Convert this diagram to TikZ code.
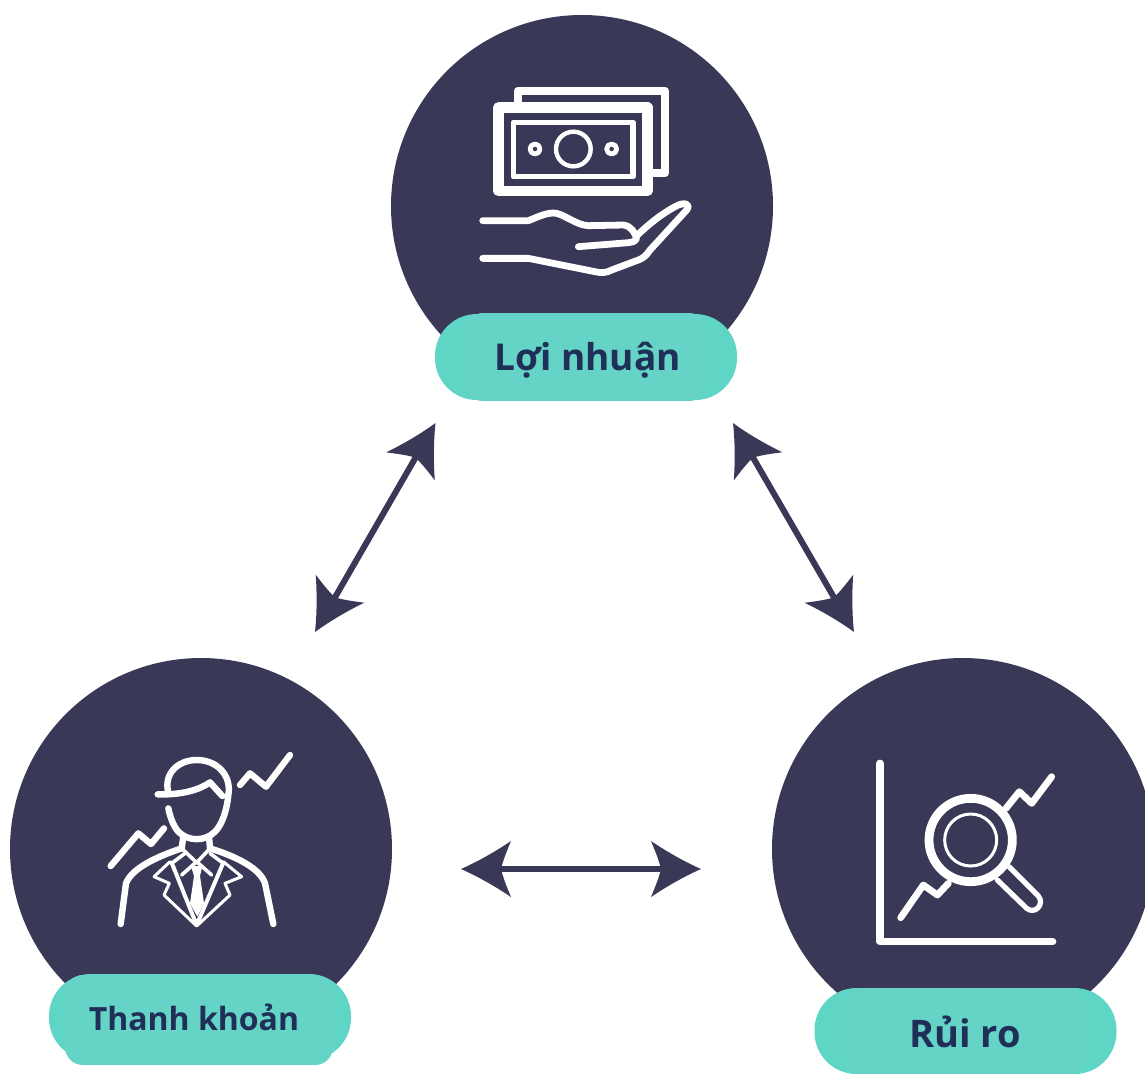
\documentclass[tikz,border=0pt]{standalone}
\usepackage{fontspec}
\setmainfont{Open Sans}
\definecolor{navy}{HTML}{393856}
\definecolor{tealA}{HTML}{65D4C6}
\definecolor{tealB}{HTML}{5FD5C5}
\definecolor{labeltext}{HTML}{1F2F57}
\makeatletter
\pgfdeclarearrow{
  name=Barb,
  setup code={\pgfarrowssettipend{25pt}\pgfarrowssetlineend{8pt}\pgfarrowssetbackend{0pt}\pgfarrowssetvisualbackend{5pt}},
  drawing code={
    \pgfpathmoveto{\pgfqpoint{25pt}{0pt}}
    \pgfpathcurveto{\pgfqpoint{17pt}{3.5pt}}{\pgfqpoint{8pt}{8.6pt}}{\pgfqpoint{0pt}{14pt}}
    \pgfpathcurveto{\pgfqpoint{2pt}{9.2pt}}{\pgfqpoint{4pt}{4.4pt}}{\pgfqpoint{5pt}{0pt}}
    \pgfpathcurveto{\pgfqpoint{4pt}{-4.4pt}}{\pgfqpoint{2pt}{-9.2pt}}{\pgfqpoint{0pt}{-14pt}}
    \pgfpathcurveto{\pgfqpoint{8pt}{-8.6pt}}{\pgfqpoint{17pt}{-3.5pt}}{\pgfqpoint{25pt}{0pt}}
    \pgfpathclose
    \pgfusepathqfill
  },
  defaults={}
}
\makeatother
\tikzset{
  disc/.style={circle,fill=navy,draw=none,minimum size=191pt,inner sep=0pt},
  pillbody/.style={rounded corners=21pt,draw=none,fill=tealB,minimum width=151pt,minimum height=43pt,inner sep=0pt},
  pillcore/.style={rounded corners=9pt,draw=none,fill=tealA,inner sep=0pt},
  labeltxt/.style={text=labeltext,font=\bfseries,inner sep=0pt},
  link/.style={draw=navy,line width=3pt,{Barb}-{Barb}},
  icon/.style={draw=white,line cap=round,line join=round},
  zoomA/.style={x=0.16667pt,y=-0.16667pt}
}
\begin{document}
\begin{tikzpicture}[x=0.5pt,y=-0.5pt]
\useasboundingbox (0,0) rectangle (1145,1073);
\clip (0,0) rectangle (1145,1073);

% discs
\node[disc] (top) at (582,206) {};
\node[disc] (left) at (201,849) {};
\node[disc] (right) at (963,849) {};

% pills
\node[pillbody] (pillT) at (586,357) {};
\node[pillcore,minimum width=121pt,minimum height=44pt] (coreT) at (586,357) {};
\node[labeltxt,font=\bfseries\fontsize{18.5}{20}\selectfont] (labT) at (587.5,360) {Lợi nhuận};

\node[pillbody] (pillL) at (200,1017) {};
\node[pillcore,minimum width=134pt,minimum height=45pt] (coreL) at (199,1020) {};
\node[labeltxt,font=\bfseries\fontsize{16}{18}\selectfont] (labL) at (194,1017) {Thanh khoản};

\node[pillbody] (pillR) at (965.5,1031) {};
\node[pillcore,minimum width=121pt,minimum height=43pt] (coreR) at (965.5,1031) {};
\node[labeltxt,font=\bfseries\fontsize{19}{20}\selectfont] (labR) at (965,1032) {Rủi ro};

% connectors
\coordinate (a1) at (435.5,423);
\coordinate (a2) at (315,632);
\coordinate (b1) at (733,423);
\coordinate (b2) at (854,632);
\coordinate (c1) at (461,869);
\coordinate (c2) at (701,869);
\draw[link] (a1) -- (a2);
\draw[link] (b1) -- (b2);
\draw[link] (c1) -- (c2);

% money icon
\begin{scope}[shift={(460,70)},zoomA]
  \draw[icon,line width=3.9pt,line cap=butt] (173,100) -- (173,62) -- (615,62) -- (615,310) -- (575,310);
  \draw[icon,line width=5.2pt] (115,113) rectangle (562,363);
  \draw[icon,line width=2.8pt] (160,157) rectangle (519,320);
  \draw[icon,line width=2.2pt] (340,237) circle (52);
  \draw[icon,line width=2.4pt] (225,237) circle (15);
  \draw[icon,line width=2.4pt] (455,237) circle (15);
  \draw[icon,line width=3.4pt] (68,452) -- (205,452)
     .. controls (235,440) and (265,425) .. (290,430)
     .. controls (320,438) and (350,465) .. (385,467)
     -- (490,465) .. controls (515,468) and (525,490) .. (530,505)
     .. controls (525,515) and (515,518) .. (505,518) -- (355,530);
  \draw[icon,line width=3.4pt] (68,565) -- (205,565) -- (405,605)
     .. controls (425,610) and (440,608) .. (455,600)
     -- (535,570) .. controls (550,565) and (560,555) .. (570,540)
     -- (680,420) .. controls (695,400) and (670,395) .. (645,410)
     .. controls (600,435) and (570,460) .. (530,497);
\end{scope}

% person icon
\begin{scope}[shift={(90,740)},zoomA]
  \draw[icon,line width=3.2pt] (203,163) .. controls (260,165) and (320,155) .. (360,127) -- (397,168);
  \draw[icon,line width=3.2pt] (235,158) .. controls (220,100) and (265,60) .. (320,60)
     .. controls (385,60) and (425,110) .. (415,165)
     .. controls (410,215) and (395,255) .. (375,275)
     .. controls (345,305) and (295,305) .. (265,275)
     .. controls (250,258) and (240,230) .. (235,205);
  \draw[icon,line width=3.2pt] (280,290) -- (275,325)
     .. controls (200,350) and (125,385) .. (108,430) -- (92,552);
  \draw[icon,line width=3.2pt] (357,290) -- (360,325)
     .. controls (440,350) and (510,385) .. (525,430) -- (550,552);
  \draw[icon,line width=3.2pt] (62,378) -- (145,280) -- (183,312) -- (222,265);
  \draw[icon,line width=3.2pt] (450,135) -- (480,100) -- (528,140) -- (600,45);
  \draw[icon,line width=2pt] (245,368) -- (320,555) -- (400,368);
  \draw[icon,line width=1.5pt] (240,365) -- (192,410) -- (238,430) -- (222,465) -- (320,558) -- (420,465) -- (405,430) -- (455,410) -- (400,365);
  \draw[icon,line width=1.8pt] (275,325) -- (320,368) -- (360,325);
  \draw[icon,line width=1.8pt] (245,370) -- (285,340);
  \draw[icon,line width=1.8pt] (400,370) -- (360,340);
  \draw[icon,line width=1.8pt] (275,405) -- (320,365) -- (365,405);
  \fill[white] (303,378) -- (337,378) -- (330,408) -- (342,490) -- (322,530) -- (300,490) -- (312,408) -- cycle;
\end{scope}

% chart icon
\begin{scope}[shift={(860,750)},zoomA]
  \draw[icon,line width=3.7pt] (60,40) -- (60,575) -- (578,575);
  \draw[icon,line width=4.4pt] (332,270) circle (125);
  \draw[icon,line width=1.5pt] (332,270) circle (78);
  \draw[icon,line width=3.4pt] (122,503) -- (190,405) -- (232,435) -- (265,400);
  \draw[icon,line width=3.4pt] (438,175) -- (478,125) -- (515,160) -- (575,80);
  \draw[icon,line width=2.6pt] (447,350) -- (535,438)
     .. controls (555,462) and (525,495) .. (500,475) -- (412,390);
\end{scope}
\end{tikzpicture}
\end{document}
